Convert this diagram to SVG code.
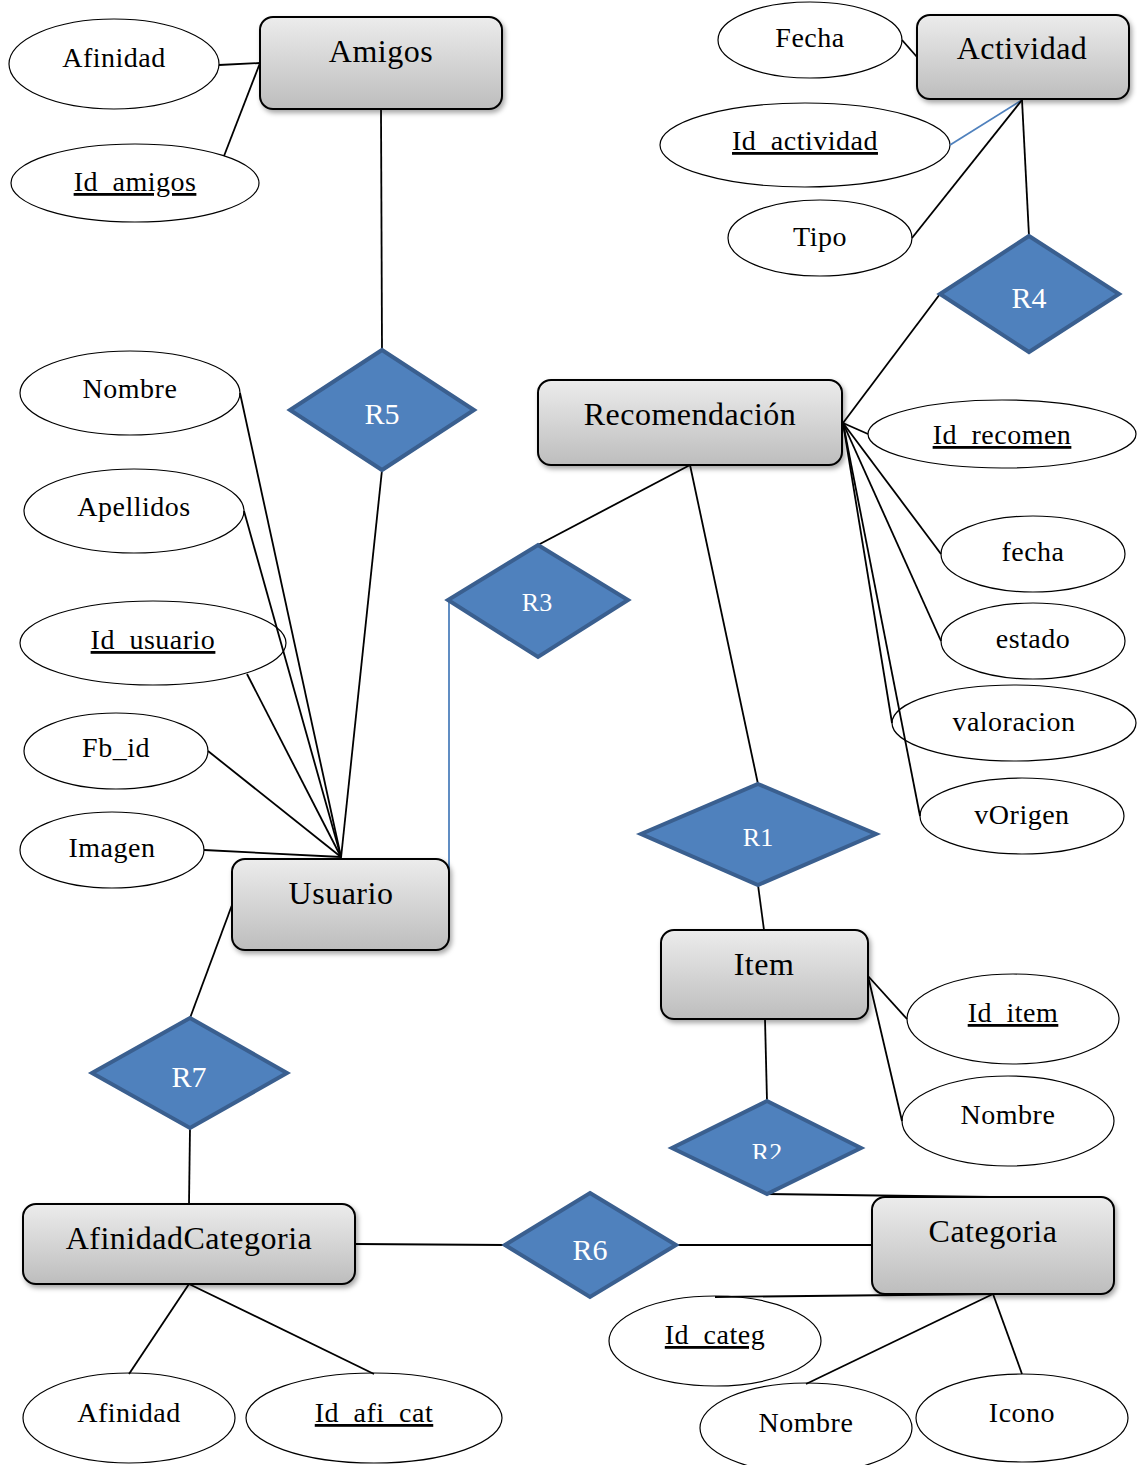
<svg xmlns="http://www.w3.org/2000/svg" width="1137" height="1465" viewBox="0 0 1137 1465">
<defs>
<linearGradient id="eg" x1="0" y1="0" x2="0" y2="1">
<stop offset="0" stop-color="#ececec"/>
<stop offset="1" stop-color="#bdbdbd"/>
</linearGradient>
<filter id="sh" x="-10%" y="-10%" width="130%" height="140%">
<feDropShadow dx="2" dy="3" stdDeviation="2.5" flood-color="#000" flood-opacity="0.35"/>
</filter>
<clipPath id="r2clip"><rect x="600" y="1100" width="300" height="59"/></clipPath>
</defs>
<style>
.attr ellipse{fill:#fff;stroke:#000;stroke-width:1.2}
.attr text{font-family:"Liberation Serif","Times New Roman",serif;font-size:28px;fill:#000;text-anchor:middle;letter-spacing:0.5px}
.key text{text-decoration:underline}
.ent rect{fill:url(#eg);stroke:#000;stroke-width:2;filter:url(#sh)}
.ent text{font-family:"Liberation Serif","Times New Roman",serif;font-size:32px;fill:#000;text-anchor:middle;letter-spacing:0.5px}
.rel polygon{fill:#4f81bd;stroke:#3a5f8f;stroke-width:4;stroke-linejoin:miter}
.rel text{font-family:"Liberation Serif","Times New Roman",serif;font-size:30px;fill:#fff;text-anchor:middle}
.rel text.sm{font-size:26px}
#connectors line{stroke:#000;stroke-width:1.8}
#connectors line.blue{stroke:#4f81bd;stroke-width:1.8}
</style>

<!-- attributes -->
<g id="attr-afinidad-amigos" class="attr"><ellipse cx="114" cy="64" rx="105" ry="45"/><text x="114" y="67">Afinidad</text></g>
<g id="attr-id-amigos" class="attr key"><ellipse cx="135" cy="183" rx="124" ry="39"/><text x="135" y="191">Id_amigos</text></g>
<g id="attr-fecha-act" class="attr"><ellipse cx="810" cy="40" rx="92" ry="38"/><text x="810" y="47">Fecha</text></g>
<g id="attr-id-actividad" class="attr key"><ellipse cx="805" cy="145" rx="145" ry="42"/><text x="805" y="150">Id_actividad</text></g>
<g id="attr-tipo" class="attr"><ellipse cx="820" cy="238" rx="92" ry="38"/><text x="820" y="246">Tipo</text></g>
<g id="attr-nombre-usr" class="attr"><ellipse cx="130" cy="393" rx="110" ry="42"/><text x="130" y="398">Nombre</text></g>
<g id="attr-apellidos" class="attr"><ellipse cx="134" cy="511" rx="110" ry="42"/><text x="134" y="516">Apellidos</text></g>
<g id="attr-id-usuario" class="attr key"><ellipse cx="153" cy="643" rx="133" ry="42"/><text x="153" y="649">Id_usuario</text></g>
<g id="attr-fbid" class="attr"><ellipse cx="116" cy="751" rx="92" ry="38"/><text x="116" y="757">Fb_id</text></g>
<g id="attr-imagen" class="attr"><ellipse cx="112" cy="850" rx="92" ry="38"/><text x="112" y="857">Imagen</text></g>
<g id="attr-id-recomen" class="attr key"><ellipse cx="1002" cy="434" rx="134" ry="34"/><text x="1002" y="444">Id_recomen</text></g>
<g id="attr-fecha-rec" class="attr"><ellipse cx="1033" cy="554" rx="92" ry="38"/><text x="1033" y="561">fecha</text></g>
<g id="attr-estado" class="attr"><ellipse cx="1033" cy="641" rx="92" ry="38"/><text x="1033" y="648">estado</text></g>
<g id="attr-valoracion" class="attr"><ellipse cx="1014" cy="723" rx="122" ry="38"/><text x="1014" y="731">valoracion</text></g>
<g id="attr-vorigen" class="attr"><ellipse cx="1022" cy="816" rx="102" ry="38"/><text x="1022" y="824">vOrigen</text></g>
<g id="attr-id-item" class="attr key"><ellipse cx="1013" cy="1019" rx="106" ry="45"/><text x="1013" y="1022">Id_item</text></g>
<g id="attr-nombre-item" class="attr"><ellipse cx="1008" cy="1121" rx="106" ry="45"/><text x="1008" y="1124">Nombre</text></g>
<g id="attr-id-categ" class="attr key"><ellipse cx="715" cy="1341" rx="106" ry="45"/><text x="715" y="1344">Id_categ</text></g>
<g id="attr-nombre-categ" class="attr"><ellipse cx="806" cy="1428" rx="106" ry="45"/><text x="806" y="1432">Nombre</text></g>
<g id="attr-icono" class="attr"><ellipse cx="1022" cy="1418" rx="106" ry="44"/><text x="1022" y="1422">Icono</text></g>
<g id="attr-afinidad-ac" class="attr"><ellipse cx="129" cy="1418" rx="106" ry="45"/><text x="129" y="1422">Afinidad</text></g>
<g id="attr-id-afi-cat" class="attr key"><ellipse cx="374" cy="1418" rx="128" ry="45"/><text x="374" y="1422">Id_afi_cat</text></g>

<!-- connectors -->
<g id="connectors">
<line x1="219" y1="65" x2="260" y2="63"/>
<line x1="224" y1="156" x2="260" y2="63"/>
<line x1="381" y1="109" x2="382" y2="350"/>
<line x1="382" y1="470" x2="341" y2="858"/>
<line x1="902" y1="40" x2="917" y2="57"/>
<line class="blue" x1="950" y1="145" x2="1022" y2="100"/>
<line x1="912" y1="238" x2="1022" y2="100"/>
<line x1="1022" y1="100" x2="1029" y2="236"/>
<line x1="940" y1="294" x2="843" y2="423"/>
<line x1="843" y1="423" x2="868" y2="434"/>
<line x1="843" y1="423" x2="941" y2="554"/>
<line x1="843" y1="423" x2="941" y2="641"/>
<line x1="843" y1="423" x2="892" y2="723"/>
<line x1="843" y1="423" x2="920" y2="816"/>
<line x1="690" y1="465" x2="538" y2="545"/>
<line x1="690" y1="465" x2="758" y2="784"/>
<line class="blue" x1="449" y1="601" x2="449" y2="905"/>
<line x1="758" y1="885" x2="764" y2="930"/>
<line x1="868" y1="976" x2="907" y2="1019"/>
<line x1="868" y1="976" x2="902" y2="1121"/>
<line x1="765" y1="1019" x2="767" y2="1101"/>
<line x1="767" y1="1194" x2="990" y2="1197"/>
<line x1="676" y1="1245" x2="872" y2="1245"/>
<line x1="355" y1="1244" x2="505" y2="1245"/>
<line x1="715" y1="1297" x2="993" y2="1294"/>
<line x1="993" y1="1294" x2="806" y2="1384"/>
<line x1="993" y1="1294" x2="1022" y2="1374"/>
<line x1="232" y1="905" x2="190" y2="1018"/>
<line x1="190" y1="1128" x2="189" y2="1204"/>
<line x1="189" y1="1284" x2="129" y2="1374"/>
<line x1="189" y1="1284" x2="374" y2="1374"/>
<line x1="240" y1="393" x2="341" y2="857"/>
<line x1="244" y1="511" x2="341" y2="857"/>
<line x1="247" y1="674" x2="341" y2="857"/>
<line x1="208" y1="751" x2="341" y2="857"/>
<line x1="204" y1="850" x2="341" y2="857"/>
</g>

<!-- entities -->
<g id="ent-amigos" class="ent"><rect x="260" y="17" width="242" height="92" rx="13"/><text x="381" y="62">Amigos</text></g>
<g id="ent-actividad" class="ent"><rect x="917" y="15" width="212" height="84" rx="13"/><text x="1022" y="59">Actividad</text></g>
<g id="ent-recomendacion" class="ent"><rect x="538" y="380" width="304" height="85" rx="13"/><text x="690" y="425">Recomendación</text></g>
<g id="ent-usuario" class="ent"><rect x="232" y="859" width="217" height="91" rx="13"/><text x="341" y="904">Usuario</text></g>
<g id="ent-item" class="ent"><rect x="661" y="930" width="207" height="89" rx="13"/><text x="764" y="975">Item</text></g>
<g id="ent-afinidadcategoria" class="ent"><rect x="23" y="1204" width="332" height="80" rx="13"/><text x="189" y="1249">AfinidadCategoria</text></g>
<g id="ent-categoria" class="ent"><rect x="872" y="1197" width="242" height="97" rx="13"/><text x="993" y="1242">Categoria</text></g>

<!-- relationships -->
<g id="rel-r5" class="rel"><polygon points="382,350 474,410 382,470 290,410"/><text x="382" y="424">R5</text></g>
<g id="rel-r4" class="rel"><polygon points="1029,236 1119,294 1029,352 940,294"/><text x="1029" y="308">R4</text></g>
<g id="rel-r3" class="rel"><polygon points="538,545 628,600 538,657 448,600"/><text class="sm" x="537" y="611">R3</text></g>
<g id="rel-r1" class="rel"><polygon points="758,784 876,834 758,885 641,834"/><text class="sm" x="758" y="846">R1</text></g>
<g id="rel-r2" class="rel"><polygon points="767,1101 861,1148 767,1194 672,1148"/><text class="sm" x="767" y="1161" clip-path="url(#r2clip)">R2</text></g>
<g id="rel-r7" class="rel"><polygon points="190,1018 287,1073 190,1128 92,1073"/><text x="189" y="1087">R7</text></g>
<g id="rel-r6" class="rel"><polygon points="590,1193 676,1245 590,1297 505,1245"/><text x="590" y="1260">R6</text></g>
</svg>
